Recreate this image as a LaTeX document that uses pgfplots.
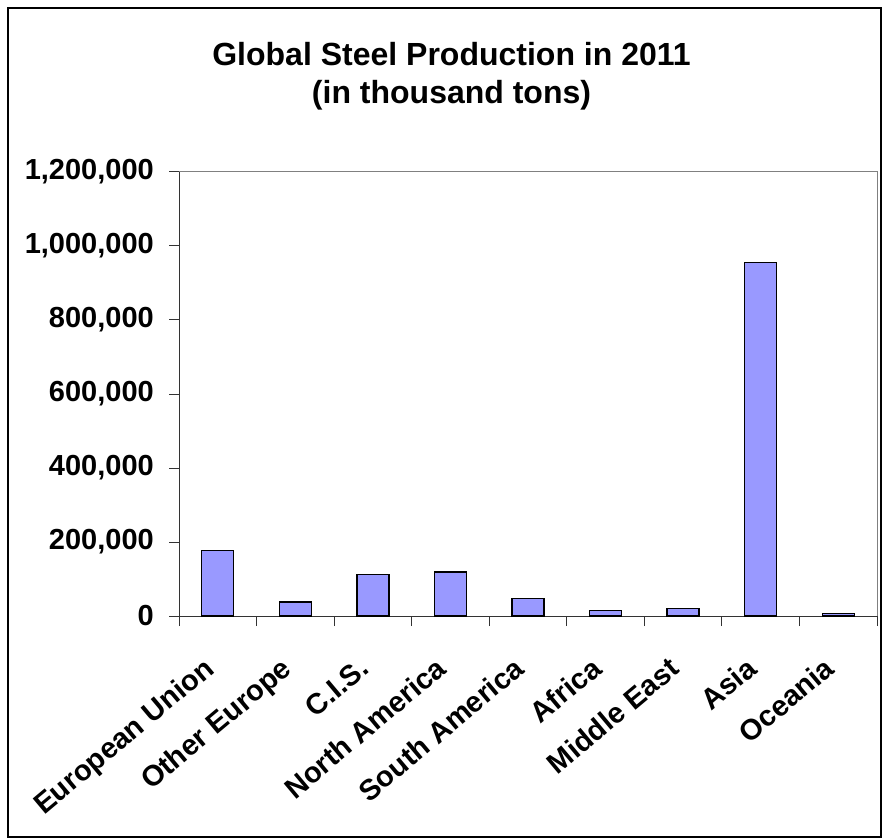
\documentclass[border=0pt]{standalone}
\usepackage{pgfplots}
\pgfplotsset{compat=1.18}
\usepackage{fontspec}
\setmainfont{Liberation Sans}
\definecolor{barfill}{RGB}{153,153,255}
\begin{document}
\begin{tikzpicture}
\useasboundingbox (0,0) rectangle (882pt,838pt);
\draw[black, line width=2pt] (881pt,1pt) -- (8pt,1pt) -- (8pt,830pt) -- (881pt,830pt) -- cycle;
\node[anchor=base, font=\fontsize{32}{38}\selectfont\bfseries] at (451.5pt,772.5pt) {Global Steel Production in 2011};
\node[anchor=base, font=\fontsize{32}{38}\selectfont\bfseries] at (451.5pt,734pt) {(in thousand tons)};
\begin{axis}[
  at={(179pt,222pt)}, anchor=south west,
  scale only axis, width=698pt, height=444pt,
  xmin=-0.5, xmax=8.5, ymin=0, ymax=1200000,
  axis lines=left, axis line style={-, line width=1pt, black!80},
  ytick={0,200000,400000,600000,800000,1000000,1200000},
  scaled y ticks=false,
  /pgf/number format/.cd, fixed, 1000 sep={,}, assume math mode=true, /pgfplots/.cd,
  tick align=outside, major tick length=10pt,
  tick style={line width=1pt, black!80},
  xtick={-0.5,0.5,...,8.5}, xticklabels={},
  extra x ticks={0,1,2,3,4,5,6,7,8},
  extra x tick labels={European Union,Other Europe,C.I.S.,North America,South America,Africa,Middle East,Asia,Oceania},
  extra x tick style={major tick length=0pt, xticklabel style={xshift=-2pt, yshift=-55.5pt, rotate=40, anchor=base east, inner sep=0pt}},
  ticklabel style={font=\fontsize{29}{34}\selectfont\bfseries},
  yticklabel style={anchor=east, inner sep=0pt, xshift=-15pt},
  clip=false,
]
\addplot[ybar, bar width=32pt, fill=barfill, draw=black, line width=1.4pt] coordinates {
(0,177000) (1,38000) (2,112000) (3,119000) (4,48000) (5,15000) (6,21000) (7,956000) (8,7000)
};
\draw[gray, line width=1pt] (rel axis cs:0,1) -- (rel axis cs:1,1) -- (rel axis cs:1,0);
\end{axis}
\end{tikzpicture}
\end{document}
